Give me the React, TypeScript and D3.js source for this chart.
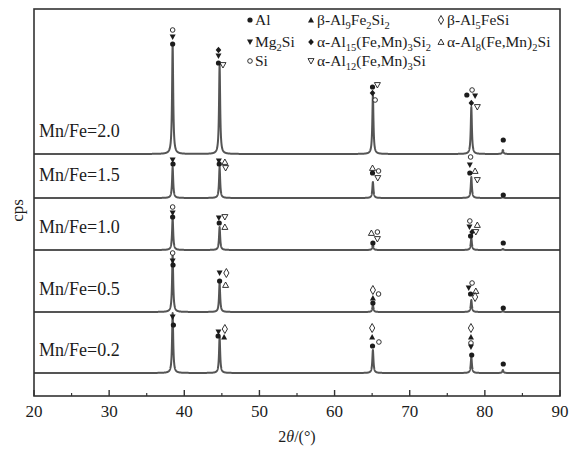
import React from "react";
import * as d3 from "d3";

// ---- data ----
const sampleLabels = ["Mn/Fe=2.0", "Mn/Fe=1.5", "Mn/Fe=1.0", "Mn/Fe=0.5", "Mn/Fe=0.2"];
const sampleOffsets = [242, 198, 146, 84, 23];
const peakPositions = [38.45, 44.7, 65.1, 78.2, 82.4];
const int20 = [109, 89, 59, 47, 4];
const int15 = [31, 31, 16, 21, 1];
const int10 = [32, 23, 5, 12, 1];
const int05 = [57, 29, 7, 12, 1];
const int02 = [60, 36, 23, 16, 3];
const intensities = [int20, int15, int10, int05, int02];
const xTicks = [20, 30, 40, 50, 60, 70, 80, 90];
const xMinorTicks = [25, 35, 45, 55, 65, 75, 85];

const phases = ["Al", "Mg2Si", "Si", "bAl9", "aAl15", "aAl12", "bAl5", "aAl8"];
const phaseLabels = [
  "Al",
  "Mg_2Si",
  "Si",
  "β-Al_9Fe_2Si_2",
  "α-Al_15(Fe,Mn)_3Si_2",
  "α-Al_12(Fe,Mn)_3Si",
  "β-Al_5FeSi",
  "α-Al_8(Fe,Mn)_2Si",
];

// [sample index, phase, 2θ, level above sample baseline]
const phaseMarks: [number, string, number, number][] = [
  [0, "Si", 38.45, 124], [0, "Mg2Si", 38.45, 117], [0, "Al", 38.45, 110],
  [0, "aAl15", 44.55, 104], [0, "Mg2Si", 44.55, 98], [0, "Al", 44.55, 91], [0, "aAl12", 45.15, 89],
  [0, "Al", 65.05, 67], [0, "aAl12", 65.7, 69], [0, "aAl15", 65.05, 61], [0, "Si", 65.4, 54],
  [0, "Al", 77.6, 59], [0, "Si", 78.3, 64], [0, "Mg2Si", 78.7, 58], [0, "aAl15", 78.2, 51], [0, "aAl12", 79.0, 47],
  [0, "Al", 82.45, 14],
  [1, "Mg2Si", 38.45, 38], [1, "Al", 38.5, 34],
  [1, "Mg2Si", 44.6, 37], [1, "Al", 44.65, 34], [1, "aAl8", 45.4, 36], [1, "aAl12", 45.5, 30],
  [1, "aAl8", 65.05, 30], [1, "Si", 65.85, 27], [1, "Al", 65.05, 25], [1, "aAl12", 65.75, 20],
  [1, "Si", 78.1, 41], [1, "Mg2Si", 78.0, 33], [1, "Al", 78.0, 25], [1, "aAl8", 78.7, 27], [1, "aAl12", 79.0, 18],
  [1, "Al", 82.45, 3],
  [2, "Si", 38.45, 43], [2, "Mg2Si", 38.45, 37], [2, "Al", 38.45, 33],
  [2, "Mg2Si", 44.6, 32], [2, "Al", 44.65, 27], [2, "aAl12", 45.4, 33], [2, "aAl8", 45.4, 23],
  [2, "aAl8", 64.9, 17], [2, "Si", 65.7, 18], [2, "aAl12", 65.7, 11], [2, "Al", 65.1, 7],
  [2, "Si", 78.0, 29], [2, "Mg2Si", 77.95, 23], [2, "aAl8", 79.0, 25], [2, "aAl15", 78.3, 18], [2, "Al", 78.1, 14], [2, "aAl12", 78.8, 18],
  [2, "Al", 82.45, 7],
  [3, "Si", 38.45, 59], [3, "Mg2Si", 38.45, 51], [3, "Al", 38.5, 47],
  [3, "Mg2Si", 44.7, 39], [3, "bAl5", 45.6, 39], [3, "Al", 44.7, 31], [3, "aAl8", 45.5, 27],
  [3, "bAl5", 65.1, 22], [3, "Si", 65.85, 18], [3, "bAl9", 65.1, 14], [3, "Al", 65.1, 9],
  [3, "Si", 78.3, 29], [3, "Mg2Si", 77.85, 24], [3, "aAl8", 78.8, 21], [3, "Al", 78.1, 18], [3, "bAl5", 78.7, 15],
  [3, "Al", 82.45, 4],
  [4, "Mg2Si", 38.45, 56], [4, "Al", 38.55, 48],
  [4, "bAl5", 45.4, 44], [4, "Mg2Si", 44.55, 41], [4, "Al", 44.5, 37], [4, "bAl9", 45.3, 36],
  [4, "bAl5", 65.0, 45], [4, "bAl9", 65.0, 36], [4, "Si", 65.9, 31], [4, "Al", 65.05, 27],
  [4, "bAl5", 78.15, 45], [4, "bAl9", 78.15, 36], [4, "Si", 78.15, 30], [4, "Mg2Si", 78.15, 26], [4, "Al", 78.25, 18],
  [4, "Al", 82.45, 9],
];

// ---- layout ----
const W = 575, H = 450;
const L = 34, R = 560, T = 9, B = 396;
const INK = "#1c1c1c";

const x = d3.scaleLinear().domain([20, 90]).range([L, R]);
const y = d3.scaleLinear().domain([0, 387]).range([B, T]);

function Marker({ type, cx, cy }: { type: string; cx: number; cy: number }) {
  const s = 3;
  if (type === "Al") return <circle cx={cx} cy={cy} r={2.6} fill={INK} />;
  if (type === "Si") return <circle cx={cx} cy={cy} r={2.3} fill="white" stroke={INK} strokeWidth={0.9} />;
  if (type === "aAl15")
    return <path d={`M${cx},${cy - 3.2}L${cx + 2.8},${cy}L${cx},${cy + 3.2}L${cx - 2.8},${cy}Z`} fill={INK} />;
  if (type === "bAl5")
    return (
      <path
        d={`M${cx},${cy - 4.5}L${cx + 2.6},${cy}L${cx},${cy + 4.5}L${cx - 2.6},${cy}Z`}
        fill="white"
        stroke={INK}
        strokeWidth={0.9}
      />
    );
  const up = `M${cx},${cy - s}L${cx + s},${cy + s * 0.8}L${cx - s},${cy + s * 0.8}Z`;
  const down = `M${cx},${cy + s}L${cx + s},${cy - s * 0.8}L${cx - s},${cy - s * 0.8}Z`;
  if (type === "Mg2Si") return <path d={down} fill={INK} />;
  if (type === "bAl9") return <path d={up} fill={INK} />;
  if (type === "aAl12") return <path d={down} fill="white" stroke={INK} strokeWidth={0.9} />;
  if (type === "aAl8") return <path d={up} fill="white" stroke={INK} strokeWidth={0.9} />;
  return null;
}

function SubText({ text, tx, ty, size, sub }: { text: string; tx: number; ty: number; size: number; sub: number }) {
  const parts: { t: string; s: boolean }[] = [];
  const re = /_(\d+)/g;
  let last = 0;
  let m: RegExpExecArray | null;
  while ((m = re.exec(text))) {
    if (m.index > last) parts.push({ t: text.slice(last, m.index), s: false });
    parts.push({ t: m[1], s: true });
    last = m.index + m[0].length;
  }
  if (last < text.length) parts.push({ t: text.slice(last), s: false });
  let state = false;
  return (
    <text x={tx} y={ty} fontFamily="'Liberation Serif', 'Times New Roman', serif" fontSize={size} fill={INK}>
      {parts.map((p, i) => {
        let dy = 0;
        if (p.s && !state) dy = 4;
        if (!p.s && state) dy = -4;
        state = p.s;
        return (
          <tspan key={i} dy={dy} fontSize={p.s ? sub : size}>
            {p.t}
          </tspan>
        );
      })}
    </text>
  );
}

export default function App() {
  const hw = 0.09;
  const grid = d3.range(20, 90.0001, 0.01);
  const line = d3
    .line<[number, number]>()
    .x((d) => x(d[0]))
    .y((d) => y(d[1]));

  const traces = intensities.map((ints, si) => {
    const pts: [number, number][] = grid.map((t) => {
      let v = 0;
      peakPositions.forEach((p, k) => {
        const dd = (t - p) / hw;
        v += ints[k] / (1 + dd * dd);
      });
      return [t, sampleOffsets[si] + v];
    });
    return line(pts) || "";
  });

  const legendCols = [
    { mx: 250, tx: 255 },
    { mx: 311, tx: 317 },
    { mx: 441, tx: 447 },
  ];
  const legendRows = [25, 47, 66];
  const legendPlace = [
    [0, 0], [0, 1], [0, 2],
    [1, 0], [1, 1], [1, 2],
    [2, 0], [2, 1],
  ];

  const font = "'Liberation Serif', 'Times New Roman', serif";

  return (
    <svg width={W} height={H} style={{ position: "absolute", left: 0, top: 0, background: "white" }}>
      <rect x={0} y={0} width={W} height={H} fill="white" />
      {traces.map((d, i) => (
        <path key={i} d={d} fill="none" stroke="#555" strokeWidth={2} strokeLinejoin="round" />
      ))}
      {phaseMarks.map(([si, ph, t, lv], i) => (
        <Marker key={i} type={ph} cx={x(t)} cy={y(sampleOffsets[si] + lv)} />
      ))}
      {sampleLabels.map((s, i) => (
        <text key={s} x={39} y={y(sampleOffsets[i]) - 17} fontFamily={font} fontSize={18} fill={INK}>
          {s}
        </text>
      ))}
      {/* frame */}
      <rect x={L} y={T} width={R - L} height={B - T} fill="none" stroke="#333" strokeWidth={1.6} />
      {xTicks.map((t) => (
        <g key={t}>
          <line x1={x(t)} x2={x(t)} y1={B} y2={B - 6} stroke="#333" strokeWidth={1.4} />
          <text x={x(t)} y={417} textAnchor="middle" fontFamily={font} fontSize={17} fill={INK}>
            {t}
          </text>
        </g>
      ))}
      {xMinorTicks.map((t) => (
        <line key={t} x1={x(t)} x2={x(t)} y1={B} y2={B - 3} stroke="#333" strokeWidth={1.2} />
      ))}
      <text x={(L + R) / 2} y={442} textAnchor="middle" fontFamily={font} fontSize={16} fill={INK}>
        2<tspan fontStyle="italic">θ</tspan>/(°)
      </text>
      <text
        transform={`translate(23,${(T + B) / 2 + 8}) rotate(-90)`}
        textAnchor="middle"
        fontFamily={font}
        fontSize={17}
        fill={INK}
      >
        cps
      </text>
      {/* legend */}
      {phases.map((ph, i) => {
        const [c, r] = legendPlace[i];
        const col = legendCols[c];
        const ry = legendRows[r];
        return (
          <g key={ph}>
            <Marker type={ph} cx={col.mx} cy={ry - 5} />
            <SubText text={phaseLabels[i]} tx={col.tx} ty={ry} size={15.5} sub={10.5} />
          </g>
        );
      })}
    </svg>
  );
}
